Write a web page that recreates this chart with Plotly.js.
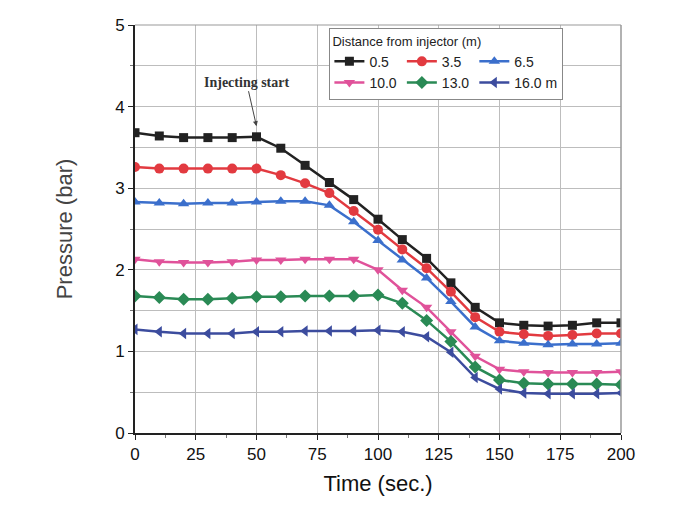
<!DOCTYPE html>
<html><head><meta charset="utf-8">
<script src="https://cdn.plot.ly/plotly-3.0.1.min.js"></script>
<style>body{margin:0;background:#fff}#c{width:699px;height:518px}</style>
</head><body><div id="c"></div>
<script>
const time = [0,10,20,30,40,50,60,70,80,90,100,110,120,130,140,150,160,170,180,190,200];
const d05  = [3.68,3.64,3.62,3.62,3.62,3.63,3.49,3.28,3.07,2.86,2.62,2.37,2.14,1.84,1.54,1.35,1.32,1.31,1.32,1.35,1.35];
const d35  = [3.26,3.24,3.24,3.24,3.24,3.24,3.16,3.06,2.94,2.72,2.49,2.25,2.02,1.73,1.42,1.24,1.21,1.19,1.20,1.22,1.22];
const d65  = [2.83,2.82,2.81,2.82,2.82,2.83,2.84,2.84,2.79,2.59,2.36,2.12,1.90,1.61,1.30,1.13,1.10,1.08,1.09,1.09,1.10];
const d100 = [2.13,2.10,2.09,2.09,2.10,2.12,2.12,2.13,2.13,2.13,2.00,1.75,1.54,1.24,0.94,0.78,0.75,0.74,0.74,0.74,0.75];
const d130 = [1.68,1.66,1.64,1.64,1.65,1.67,1.67,1.68,1.68,1.68,1.69,1.59,1.38,1.12,0.81,0.65,0.61,0.60,0.60,0.60,0.59];
const d160 = [1.27,1.24,1.22,1.22,1.22,1.24,1.24,1.25,1.25,1.25,1.26,1.24,1.18,0.99,0.68,0.54,0.49,0.48,0.48,0.48,0.49];
const names = ['0.5','3.5','6.5','10.0','13.0','16.0 m'];
const series = [d05,d35,d65,d100,d130,d160];
const colors = ['#222222','#e23a40','#3b6fcc','#e0529a','#2a8a55','#3c4c9e'];
const symbols = ['square','circle','triangle-up','triangle-down','diamond','triangle-left'];
const legendCols = ['a','b','c','a','b','c'];

const traces = series.map((s,i)=>({
  x: time, y: s, name: names[i], type:'scatter', mode:'lines+markers',
  legendgroup: legendCols[i],
  line:{color:colors[i], width:2.5},
  marker:{symbol:symbols[i], size: symbols[i]==='square'?9:10, color:colors[i]}
}));

const layout = {
  width:699, height:518,
  margin:{l:135, r:78, t:25, b:85},
  paper_bgcolor:'#fff', plot_bgcolor:'#fff',
  font:{family:'Liberation Sans, Arial, sans-serif', color:'#111'},
  showlegend:true,
  legend:{
    orientation:'h', x:0.40, y:0.993, xanchor:'left', yanchor:'top',
    traceorder:'grouped', itemwidth:30, bgcolor:'#fff', bordercolor:'#888', borderwidth:1,
    font:{size:14, color:'#222'}, tracegroupgap:0,
    title:{text:'Distance from injector (m)', side:'top', font:{size:13, color:'#222'}}
  },
  xaxis:{
    range:[0,200], dtick:25, tick0:0, ticks:'outside', ticklen:5, tickcolor:'#222',
    showline:true, linecolor:'#222', linewidth:2, zeroline:false,
    showgrid:true, gridcolor:'#bdbdbd', gridwidth:1,
    tickfont:{size:17, color:'#111'},
    minor:{dtick:12.5, ticks:'outside', ticklen:3, tickcolor:'#777', showgrid:false},
    title:{text:'Time (sec.)', font:{size:22, color:'#111'}, standoff:12}
  },
  yaxis:{
    range:[0,5], dtick:1, tick0:0, ticks:'outside', ticklen:5, tickcolor:'#222',
    showline:true, linecolor:'#222', linewidth:2, zeroline:false,
    showgrid:true, gridcolor:'#bdbdbd', gridwidth:1,
    tickfont:{size:17, color:'#111'},
    minor:{dtick:0.5, ticks:'outside', ticklen:3, tickcolor:'#777', showgrid:true, gridcolor:'#bdbdbd', gridwidth:1},
    title:{text:'Pressure (bar)', font:{size:22, color:'#444'}, standoff:36}
  },
  shapes:[
    {type:'line', xref:'paper', yref:'paper', x0:0, x1:1, y0:1, y1:1, line:{color:'#999', width:1}},
    {type:'line', xref:'paper', yref:'paper', x0:1, x1:1, y0:0, y1:1, line:{color:'#999', width:1.5}}
  ],
  annotations:[{
    x:50, y:3.76, xref:'x', yref:'y', text:'<b>Injecting start</b>',
    showarrow:true, arrowhead:2, arrowsize:1, arrowwidth:1, arrowcolor:'#444',
    ax:-10, ay:-44, font:{family:'Liberation Serif, serif', size:14, color:'#333'}
  }]
};
Plotly.newPlot('c', traces, layout, {displayModeBar:false, staticPlot:true});
</script></body></html>
